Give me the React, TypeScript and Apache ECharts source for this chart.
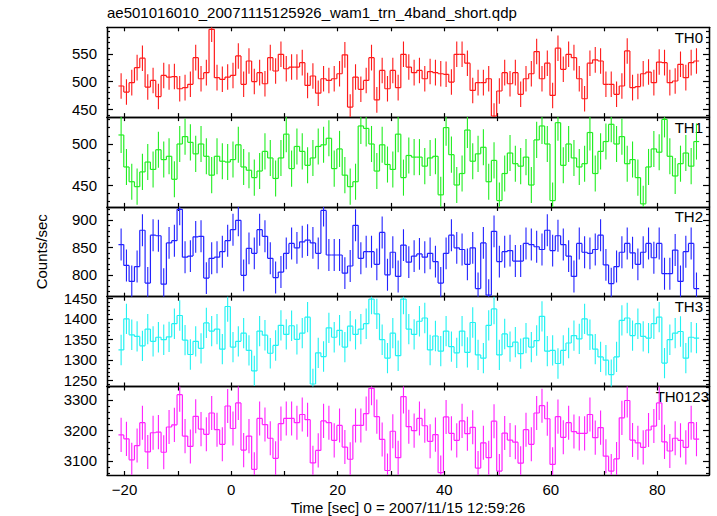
import React, { useEffect, useRef } from "react";
import * as echarts from "echarts";

// ---- data: count rates per 1 s bin, bin centres start at T0 ----
const T0 = -20.65;
const BIN = 1;

const th0 = [
  492, 481, 498, 525, 542, 490, 502, 473, 511, 508, 509, 487, 489, 495, 543, 505, 516, 594, 507, 504,
  508, 511, 546, 495, 537, 500, 516, 496, 543, 519, 549, 523, 526, 526, 534, 493, 510, 479, 505, 502,
  505, 514, 548, 454, 508, 486, 502, 543, 467, 520, 487, 520, 489, 549, 526, 516, 520, 505, 518, 516,
  514, 513, 499, 549, 549, 533, 484, 498, 498, 505, 438, 483, 516, 496, 516, 477, 505, 514, 554, 505,
  533, 475, 560, 522, 549, 543, 505, 469, 533, 539, 537, 495, 495, 477, 492, 555, 489, 491, 514, 517,
  498, 535, 534, 498, 501, 531, 507, 534, 537,
];

const th1 = [
  511, 472, 454, 448, 466, 478, 469, 493, 481, 485, 457, 500, 509, 502, 488, 500, 485, 462, 485, 479,
  478, 481, 499, 472, 468, 459, 467, 491, 483, 458, 483, 512, 470, 497, 491, 474, 483, 497, 499, 507,
  470, 494, 462, 448, 454, 522, 519, 500, 467, 499, 475, 469, 512, 459, 486, 484, 484, 473, 483, 485,
  438, 520, 487, 450, 464, 517, 479, 488, 496, 454, 480, 431, 464, 489, 476, 473, 484, 450, 505, 522,
  500, 431, 526, 474, 500, 483, 472, 476, 514, 464, 491, 503, 524, 500, 509, 476, 481, 459, 427, 472,
  494, 490, 530, 485, 461, 476, 489, 473, 503,
];

const th2 = [
  855, 817, 788, 815, 881, 785, 872, 871, 783, 858, 862, 919, 832, 834, 869, 870, 794, 830, 832, 842,
  862, 882, 899, 799, 848, 839, 882, 870, 830, 795, 805, 839, 857, 849, 860, 863, 858, 839, 917, 836,
  836, 836, 803, 816, 890, 830, 842, 842, 819, 877, 800, 841, 797, 854, 823, 834, 838, 832, 839, 824,
  785, 839, 872, 849, 846, 819, 849, 775, 858, 763, 879, 824, 842, 844, 825, 825, 857, 855, 851, 846,
  881, 844, 871, 855, 834, 797, 857, 841, 839, 846, 872, 818, 784, 815, 841, 857, 840, 819, 841, 857,
  831, 857, 802, 802, 845, 788, 842, 857, 775,
];

const th3 = [
  1324, 1400, 1361, 1357, 1334, 1375, 1345, 1355, 1349, 1356, 1388, 1408, 1348, 1313, 1345, 1328, 1390, 1370, 1375, 1326,
  1430, 1331, 1345, 1365, 1323, 1273, 1370, 1360, 1316, 1335, 1384, 1362, 1383, 1350, 1365, 1404, 1241, 1317, 1308, 1378,
  1355, 1372, 1331, 1382, 1362, 1375, 1388, 1448, 1412, 1349, 1304, 1365, 1310, 1448, 1375, 1362, 1394, 1402, 1324, 1358,
  1321, 1370, 1332, 1317, 1370, 1318, 1391, 1312, 1304, 1384, 1424, 1312, 1363, 1332, 1343, 1315, 1353, 1331, 1347, 1406,
  1321, 1323, 1291, 1323, 1341, 1359, 1351, 1400, 1361, 1326, 1307, 1299, 1264, 1307, 1396, 1402, 1359, 1388, 1357, 1353,
  1388, 1404, 1292, 1349, 1365, 1369, 1304, 1355, 1353,
];

const th0123 = [
  3185, 3172, 3103, 3150, 3225, 3129, 3192, 3194, 3128, 3211, 3218, 3317, 3181, 3147, 3246, 3204, 3187, 3257, 3202, 3154,
  3280, 3206, 3290, 3135, 3181, 3072, 3239, 3219, 3174, 3108, 3222, 3239, 3239, 3225, 3252, 3235, 3093, 3134, 3231, 3225,
  3167, 3216, 3145, 3105, 3216, 3216, 3255, 3338, 3245, 3170, 3068, 3197, 3110, 3311, 3212, 3199, 3239, 3215, 3164, 3186,
  3061, 3244, 3190, 3167, 3231, 3189, 3210, 3076, 3159, 3110, 3230, 3066, 3191, 3168, 3161, 3092, 3202, 3154, 3257, 3281,
  3238, 3088, 3245, 3177, 3225, 3196, 3190, 3190, 3252, 3176, 3209, 3115, 3066, 3106, 3241, 3298, 3168, 3159, 3144, 3201,
  3214, 3290, 3162, 3132, 3174, 3167, 3144, 3225, 3171,
];

// 1-sigma errors per band (counts/sec)
const panelNames = ["TH0", "TH1", "TH2", "TH3", "TH0123"];
const panelValues = [th0, th1, th2, th3, th0123];
const panelErrors = [23, 22, 29, 37, 56];
const panelMin = [436, 423.3, 760.2, 1234.9, 3053.2];
const panelMax = [597.6, 532.8, 923.5, 1453.9, 3344];
const panelMajorLabels = [
  [450, 500, 550],
  [450, 500],
  [800, 850, 900],
  [1250, 1300, 1350, 1400, 1450],
  [3100, 3200, 3300],
];
const panelMinorStep = [10, 10, 10, 10, 20];

const xMin = -23.3;
const xMax = 89.7;
const xTickValues = [-20, -10, 0, 10, 20, 30, 40, 50, 60, 70, 80];
const xLabelValues = [-20, 0, 20, 40, 60, 80];

const titleText = "ae501016010_20071115125926_wam1_trn_4band_short.qdp";
const xTitle = "Time [sec] 0 = 2007/11/15 12:59:26";
const yTitle = "Counts/sec";

const colors = ["#ff1a1a", "#22ee22", "#2222ff", "#22f2f2", "#ff22ff"];
const FONT = "'Liberation Sans', Arial, Helvetica, sans-serif";

function minorTicks(min: number, max: number, step: number): number[] {
  const out: number[] = [];
  for (let v = Math.ceil(min / step) * step; v <= max; v += step) out.push(v);
  return out;
}

export default function App() {
  const ref = useRef<HTMLDivElement>(null);

  useEffect(() => {
    if (!ref.current) return;
    const chart = echarts.init(ref.current, null, { renderer: "svg" });

    const left = 107;
    const right = 8;
    const top0 = 27.3;
    const h = 89.8;
    const axisLine = { show: true, onZero: false, lineStyle: { color: "#000", width: 1.3 } };
    const tickStyle = { color: "#000", width: 1.2 };

    const grids: any[] = [];
    const xAxes: any[] = [];
    const yAxes: any[] = [];
    const series: any[] = [];
    const graphics: any[] = [];

    panelNames.forEach((name, k) => {
      const top = top0 + k * h;
      grids.push({ left, right, top, height: h });
      const isLast = k === panelNames.length - 1;
      xAxes.push({
        gridIndex: k,
        type: "value",
        min: xMin,
        max: xMax,
        position: "bottom",
        axisLine,
        axisTick: { show: true, inside: true, length: 4, customValues: xTickValues, lineStyle: tickStyle },
        axisLabel: {
          show: isLast,
          customValues: xLabelValues,
          formatter: (v: number) => String(v).replace("-", "\u2212"),
          fontSize: 15,
          fontFamily: FONT,
          color: "#000",
          margin: 7,
        },
        splitLine: { show: false },
        name: isLast ? xTitle : "",
        nameLocation: "middle",
        nameGap: 25,
        nameTextStyle: { fontSize: 15, fontFamily: FONT, color: "#000" },
      });
      xAxes.push({
        gridIndex: k,
        type: "value",
        min: xMin,
        max: xMax,
        position: "top",
        axisLine,
        axisTick: { show: true, inside: true, length: 4, customValues: xTickValues, lineStyle: tickStyle },
        axisLabel: { show: false },
        splitLine: { show: false },
      });
      const min = panelMin[k];
      const max = panelMax[k];
      const majors = panelMajorLabels[k];
      const minors = minorTicks(min, max, panelMinorStep[k]).filter((v) => majors.indexOf(v) < 0);
      const yBase = { gridIndex: k, type: "value", min, max, axisLine, splitLine: { show: false } };
      ["left", "right"].forEach((pos) => {
        yAxes.push({
          ...yBase,
          position: pos,
          axisTick: { show: true, inside: true, length: 6, customValues: majors, lineStyle: tickStyle },
          axisLabel: {
            show: pos === "left",
            customValues: majors,
            formatter: (v: number) => String(v),
            fontSize: 15,
            fontFamily: FONT,
            color: "#000",
            margin: 10,
          },
        });
        yAxes.push({
          ...yBase,
          position: pos,
          axisTick: { show: true, inside: true, length: 3, customValues: minors, lineStyle: tickStyle },
          axisLabel: { show: false },
        });
      });

      const values = panelValues[k];
      const err = panelErrors[k];
      const color = colors[k];
      series.push({
        type: "custom",
        xAxisIndex: 2 * k,
        yAxisIndex: 4 * k,
        clip: true,
        silent: true,
        data: values.map((v, i) => [T0 + i * BIN, v]),
        renderItem: (params: any, api: any) => {
          const i = params.dataIndex;
          const t = api.value(0);
          const v = api.value(1);
          const pL = api.coord([t - BIN / 2, v]);
          const pR = api.coord([t + BIN / 2, v]);
          const st = { stroke: color, lineWidth: 1.2, fill: null };
          const children: any[] = [
            { type: "line", shape: { x1: pL[0], y1: pL[1], x2: pR[0], y2: pR[1] }, style: st },
          ];
          if (i > 0) {
            const pp = api.coord([t - BIN / 2, values[i - 1]]);
            children.push({ type: "line", shape: { x1: pp[0], y1: pp[1], x2: pL[0], y2: pL[1] }, style: st });
          }
          const eT = api.coord([t, v + err]);
          const eB = api.coord([t, v - err]);
          children.push({
            type: "line",
            shape: { x1: eT[0], y1: eT[1], x2: eB[0], y2: eB[1] },
            style: { stroke: color, lineWidth: 1.1, fill: null },
          });
          return { type: "group", children };
        },
      });

      graphics.push({
        type: "text",
        x: isLast ? 709 : 703,
        y: top + 10,
        style: {
          text: name,
          align: "right",
          verticalAlign: "middle",
          font: `15px ${FONT}`,
          fill: "#000",
        },
      });
    });

    graphics.push({
      type: "text",
      x: 107,
      y: 12,
      style: { text: titleText, align: "left", verticalAlign: "middle", font: `15px ${FONT}`, fill: "#000" },
    });
    graphics.push({
      type: "text",
      x: 41,
      y: 251.8,
      rotation: Math.PI / 2,
      style: { text: yTitle, align: "center", verticalAlign: "middle", font: `15px ${FONT}`, fill: "#000" },
    });

    chart.setOption({
      animation: false,
      backgroundColor: "#fff",
      grid: grids,
      xAxis: xAxes,
      yAxis: yAxes,
      series,
      graphic: graphics,
    });

    return () => chart.dispose();
  }, []);

  return (
    <div
      ref={ref}
      style={{ position: "fixed", left: 0, top: 0, width: 717, height: 516 }}
    />
  );
}
